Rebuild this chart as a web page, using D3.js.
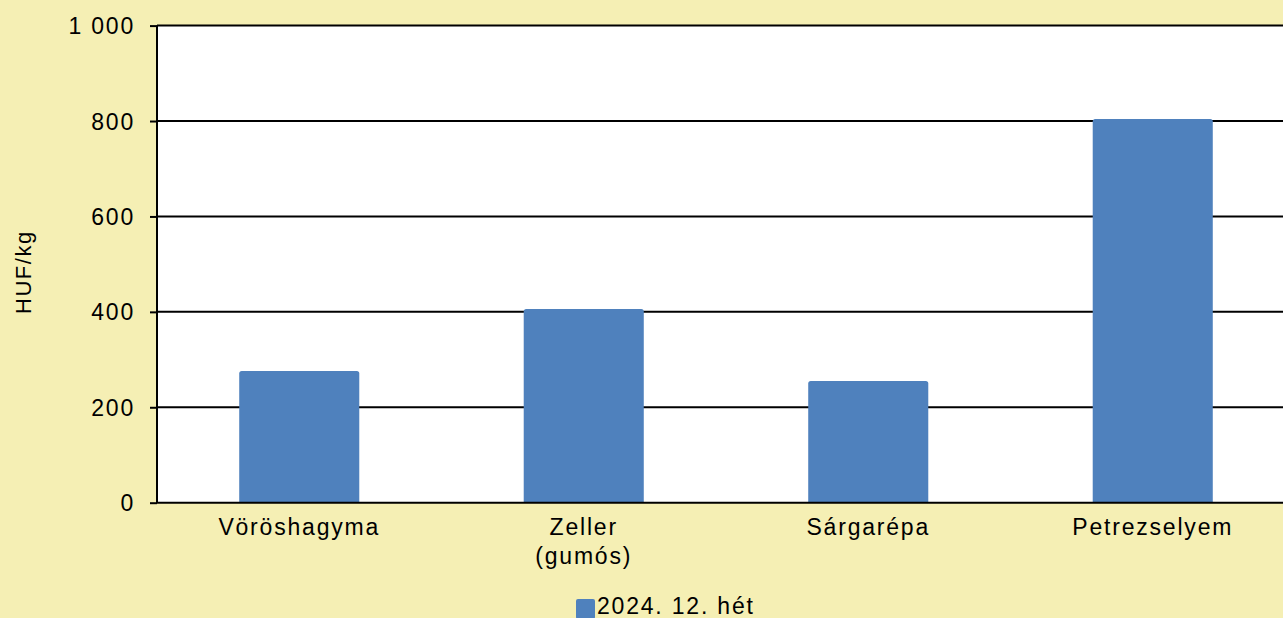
<!DOCTYPE html>
<html><head><meta charset="utf-8">
<script src="https://cdn.jsdelivr.net/npm/d3@7"></script>
<style>body{margin:0;background:#F5EFB4;overflow:hidden}text{font-family:"Liberation Sans",Arial,sans-serif}</style>
</head><body><svg id="c" width="1283" height="618"></svg>
<script>
const categories = [["Vöröshagyma"], ["Zeller", "(gumós)"], ["Sárgarépa"], ["Petrezselyem"]];
const values = [276, 406, 255, 804];
const yTicks = [0, 200, 400, 600, 800, 1000];
const tickLabels = ["0", "200", "400", "600", "800", "1 000"];
const seriesName = "2024. 12. hét";

const svg = d3.select("#c");
const W = 1283, H = 618;
const m = {l:157, t:25.6, r:-12, b:115.3};
const FS = 23, LS = "1.8px";
svg.append("rect").attr("width",W).attr("height",H).attr("fill","#F5EFB4");
const x = d3.scaleBand().domain(d3.range(categories.length)).range([m.l, W - m.r]).paddingInner(0.578).paddingOuter(0.289);
const y = d3.scaleLinear().domain([0,1000]).range([H - m.b, m.t]);

svg.append("rect").attr("x",m.l).attr("y",m.t).attr("width",W-m.l-m.r).attr("height",H-m.b-m.t).attr("fill","#fff");

// gridlines
svg.append("g").selectAll("line").data(yTicks.filter(d=>d>0)).join("line")
  .attr("x1",m.l).attr("x2",W).attr("y1",d=>y(d)).attr("y2",d=>y(d))
  .attr("stroke","#000").attr("stroke-width",2);

// bars
svg.append("g").selectAll("path").data(values).join("path")
  .attr("fill","#4F81BD")
  .attr("d",(d,i)=>{const x0=x(i),w=x.bandwidth(),y0=y(d),y1=y(0),r=2.5;
    return `M${x0},${y1}V${y0+r}Q${x0},${y0} ${x0+r},${y0}H${x0+w-r}Q${x0+w},${y0} ${x0+w},${y0+r}V${y1}Z`;});

// y axis
const ya = svg.append("g").attr("transform",`translate(${m.l},0)`)
  .call(d3.axisLeft(y).tickValues(yTicks).tickFormat((d,i)=>tickLabels[i]).tickSize(7).tickPadding(15));
ya.select(".domain").attr("stroke","#000").attr("stroke-width",2).attr("d",`M0,${y(0)}V${y(1000)}`);
ya.selectAll(".tick line").attr("stroke","#000").attr("stroke-width",2);
ya.selectAll(".tick text").attr("font-size",FS).attr("letter-spacing",LS).attr("fill","#000")
  .attr("font-family","Liberation Sans, Arial, sans-serif").attr("dy","0.35em");

// x axis line
svg.append("line").attr("x1",m.l-1).attr("x2",W).attr("y1",y(0)).attr("y2",y(0)).attr("stroke","#000").attr("stroke-width",2);

// x labels
const xl = svg.append("g").selectAll("text").data(categories).join("text")
  .attr("x",(d,i)=>x(i)+x.bandwidth()/2).attr("y",535).attr("text-anchor","middle")
  .attr("font-size",FS).attr("letter-spacing",LS).attr("fill","#000");
xl.selectAll("tspan").data(d=>d).join("tspan").attr("x",function(){return this.parentNode.getAttribute("x");})
  .attr("dy",(d,i)=>i?29:0).text(d=>d);

// y title
svg.append("text").attr("transform",`translate(31,${(y(0)+y(1000))/2+8}) rotate(-90)`).attr("text-anchor","middle")
  .attr("font-size",22).attr("letter-spacing","1.5px").attr("fill","#000").text("HUF/kg");

// legend
const lg = svg.append("g").attr("transform","translate(576,599)");
lg.append("rect").attr("x",0).attr("y",0).attr("width",19).attr("height",20).attr("rx",2).attr("fill","#4F81BD");
lg.append("text").attr("x",21).attr("y",15).attr("font-size",FS).attr("letter-spacing",LS).attr("fill","#000").text(seriesName);
</script></body></html>
